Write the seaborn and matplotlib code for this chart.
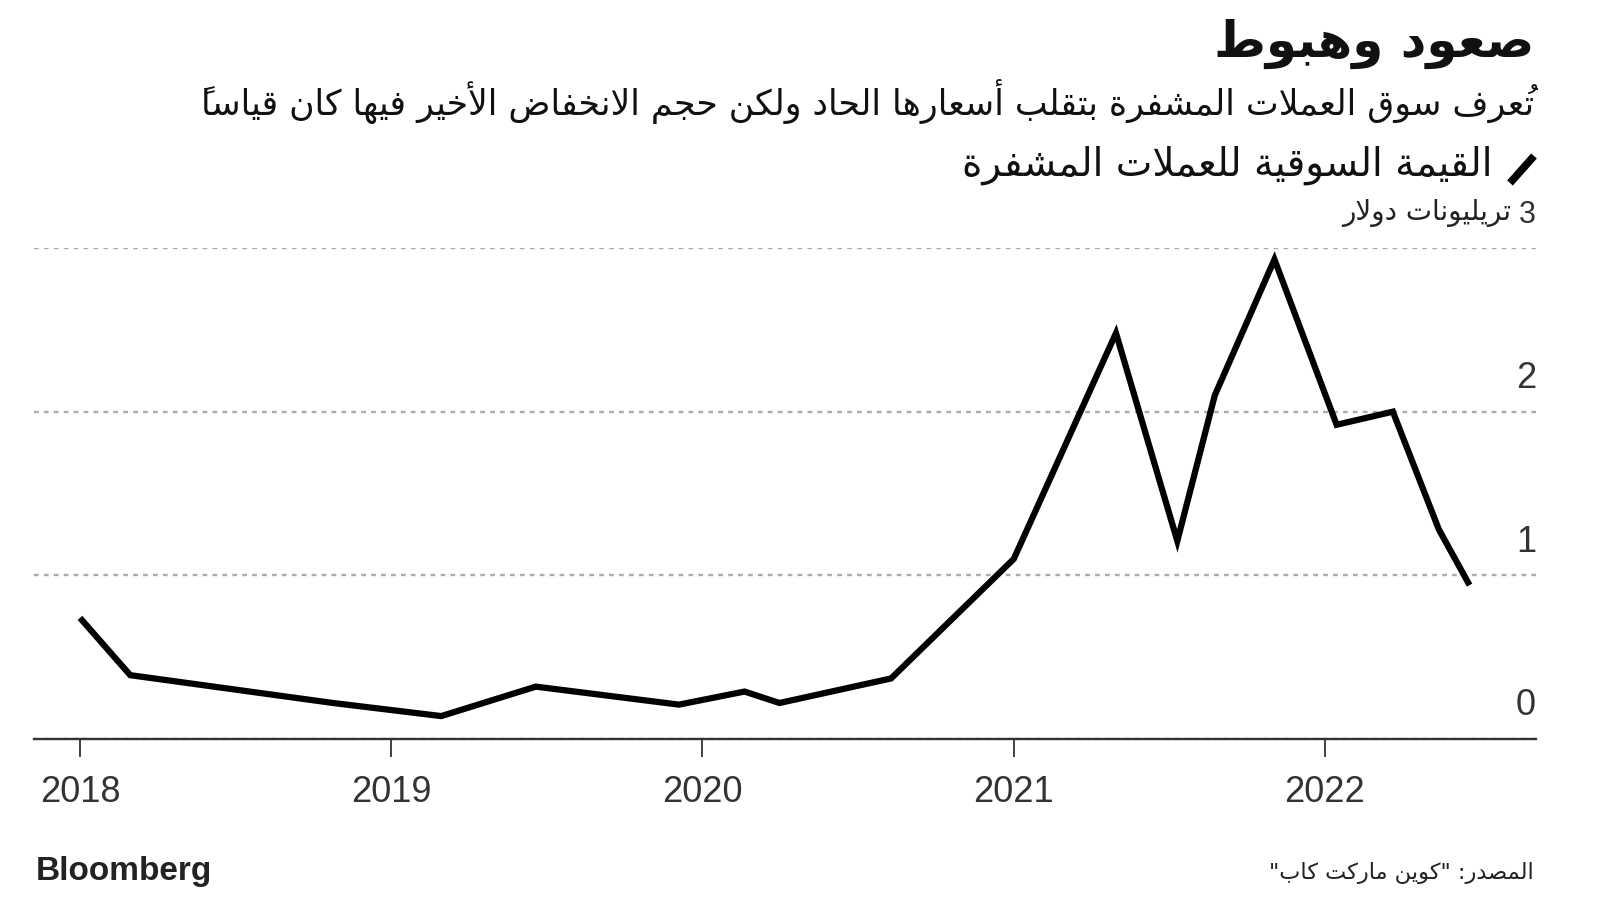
import numpy as np
import pandas as pd
import matplotlib
matplotlib.use("Agg")
import matplotlib.pyplot as plt
import matplotlib.transforms as mtransforms
from matplotlib.lines import Line2D
import seaborn as sns

# ---------------- data ----------------
dates = ["2018-01-01", "2018-03-01", "2018-10-25", "2019-03-01", "2019-06-20",
         "2019-12-05", "2020-02-20", "2020-04-01", "2020-08-10", "2021-01-01",
         "2021-05-01", "2021-07-12", "2021-08-25", "2021-11-03", "2022-01-15",
         "2022-03-22", "2022-05-15", "2022-06-20"]
values = [0.74, 0.39, 0.22, 0.14, 0.32, 0.21, 0.29, 0.22, 0.37, 1.10,
          2.48, 1.21, 2.10, 2.93, 1.92, 2.00, 1.28, 0.94]
year_ticks = [2018, 2019, 2020, 2021, 2022]
y_ticks = [0, 1, 2, 3]

title = "صعود وهبوط"
subtitle = "تُعرف سوق العملات المشفرة بتقلب أسعارها الحاد ولكن حجم الانخفاض الأخير فيها كان قياساً"
legend_label = "القيمة السوقية للعملات المشفرة"
unit_label = "تريليونات دولار"
source = 'المصدر: "كوين ماركت كاب"'
brand = "Bloomberg"

# ---------------- Arabic shaping (matplotlib has no complex text layout) ----------------
_DUAL = {'ئ': 0xFE89, 'ب': 0xFE8F, 'ت': 0xFE95, 'ث': 0xFE99, 'ج': 0xFE9D, 'ح': 0xFEA1,
         'خ': 0xFEA5, 'س': 0xFEB1, 'ش': 0xFEB5, 'ص': 0xFEB9, 'ض': 0xFEBD, 'ط': 0xFEC1,
         'ظ': 0xFEC5, 'ع': 0xFEC9, 'غ': 0xFECD, 'ف': 0xFED1, 'ق': 0xFED5, 'ك': 0xFED9,
         'ل': 0xFEDD, 'م': 0xFEE1, 'ن': 0xFEE5, 'ه': 0xFEE9, 'ي': 0xFEF1}
_RIGHT = {'آ': 0xFE81, 'أ': 0xFE83, 'ؤ': 0xFE85, 'إ': 0xFE87, 'ا': 0xFE8D, 'ة': 0xFE93,
          'د': 0xFEA9, 'ذ': 0xFEAB, 'ر': 0xFEAD, 'ز': 0xFEAF, 'و': 0xFEED, 'ى': 0xFEEF}
_LAMALEF = {'آ': 0xFEF5, 'أ': 0xFEF7, 'إ': 0xFEF9, 'ا': 0xFEFB}


def _is_mark(c):
    return '\u064B' <= c <= '\u065F' or c == '\u0670'


def shape_ar(text):
    clusters = []
    for ch in text:
        if _is_mark(ch) and clusters:
            clusters[-1]['m'] += ch
        else:
            clusters.append({'b': ch, 'm': '', 'la': None})
    merged = []
    i = 0
    while i < len(clusters):
        c = clusters[i]
        if c['b'] == 'ل' and i + 1 < len(clusters) and clusters[i + 1]['b'] in _LAMALEF:
            merged.append({'b': 'ل', 'm': c['m'] + clusters[i + 1]['m'], 'la': clusters[i + 1]['b']})
            i += 2
        else:
            merged.append(c)
            i += 1

    def jt(c):
        if c is None:
            return None
        if c['la']:
            return 'R'
        if c['b'] in _DUAL:
            return 'D'
        if c['b'] in _RIGHT:
            return 'R'
        return None

    out = []
    for i, c in enumerate(merged):
        prev = merged[i - 1] if i > 0 else None
        nxt = merged[i + 1] if i + 1 < len(merged) else None
        t = jt(c)
        jp = t in ('D', 'R') and jt(prev) == 'D'
        jn = t == 'D' and jt(nxt) in ('D', 'R')
        if c['la']:
            g = chr(_LAMALEF[c['la']] + (1 if jp else 0))
        elif t == 'D':
            g = chr(_DUAL[c['b']] + (3 if (jp and jn) else 1 if jp else 2 if jn else 0))
        elif t == 'R':
            g = chr(_RIGHT[c['b']] + (1 if jp else 0))
        elif c['b'] == 'ء':
            g = chr(0xFE80)
        else:
            g = c['b']
        # marks drawn before their base so they land over it in left-to-right drawing
        out.append((c['m'] + g, g.isascii() and g.isalnum()))
    runs = []
    for s, ltr in out:
        if ltr and runs and runs[-1][1]:
            runs[-1][0].append(s)
        else:
            runs.append(([s], ltr))
    return ''.join(''.join(r[0]) for r in reversed(runs))


# ---------------- figure ----------------
sns.set_style("white")
plt.rcParams['font.family'] = ['Liberation Sans', 'DejaVu Sans']
AR = ['DejaVu Sans']
W, H = 1600, 903
fig = plt.figure(figsize=(W / 100, H / 100), dpi=100)
fig.patch.set_facecolor('white')


def fx(px):
    return px / W


def fy(py):
    return 1 - py / H


ax = fig.add_axes([fx(34), fy(740), fx(1536) - fx(34), fy(249) - fy(740)])
df = pd.DataFrame({'date': pd.to_datetime(dates), 'value': values})
sns.lineplot(data=df, x='date', y='value', color='black', linewidth=4.5, ax=ax,
             solid_joinstyle='miter', solid_capstyle='butt')

ax.set_xlim(pd.Timestamp('2017-11-08'), pd.Timestamp('2022-09-06'))
ax.set_ylim(0, 3)
ax.set_yticks(y_ticks)
ax.yaxis.grid(True, color='#ababab', linewidth=1.7, linestyle=(0, (2, 2.2)))
ax.xaxis.grid(False)
ax.tick_params(axis='y', length=0, labelleft=False, labelright=False)
ax.set_xticks([pd.Timestamp(f'{y}-01-01') for y in year_ticks])
ax.set_xticklabels([str(y) for y in year_ticks])
ax.tick_params(axis='x', length=13, width=1.3, color='#333333', pad=12,
               labelsize=26, labelcolor='#333333', bottom=True, direction='out')
for s in ['left', 'right', 'top']:
    ax.spines[s].set_visible(False)
ax.spines['bottom'].set_color('#333333')
ax.spines['bottom'].set_linewidth(1.7)
ax.set_xlabel('')
ax.set_ylabel('')

# y tick labels above gridlines, right side (top one is smaller, with the unit)
trans = mtransforms.blended_transform_factory(ax.transAxes, ax.transData)
trans = mtransforms.offset_copy(trans, fig=fig, x=0, y=34, units='dots')
for v in y_ticks[:-1]:
    ax.text(1.0, v, str(v), transform=trans, ha='right', va='center',
            fontsize=26, color='#333333')
ax.text(1.0, y_ticks[-1], str(y_ticks[-1]), transform=trans, ha='right', va='center',
        fontsize=22, color='#333333')

# unit label
fig.text(fx(1511), fy(213), shape_ar(unit_label), ha='right', va='center',
         fontsize=20, color='#222222', family=AR)

# title / subtitle / legend
fig.text(fx(1534), fy(44), shape_ar(title), ha='right', va='center',
         fontsize=36, fontweight='bold', color='#111111', family=AR)
fig.text(fx(1534), fy(101), shape_ar(subtitle), ha='right', va='center',
         fontsize=25, color='#111111', family=AR)
fig.add_artist(Line2D([fx(1510), fx(1534)], [fy(184), fy(157)], color='black',
                      linewidth=5.5, solid_capstyle='butt', transform=fig.transFigure))
fig.text(fx(1493), fy(165), shape_ar(legend_label), ha='right', va='center',
         fontsize=28, color='#111111', family=AR)

# footer
fig.text(fx(36), fy(872), brand, ha='left', va='center', fontsize=24,
         fontweight='bold', color='#222222', family=['Liberation Sans', 'DejaVu Sans'])
fig.text(fx(1534), fy(873), shape_ar(source), ha='right', va='center',
         fontsize=16.2, color='#222222', family=AR)

fig.savefig('out.png', dpi=100, facecolor='white')
